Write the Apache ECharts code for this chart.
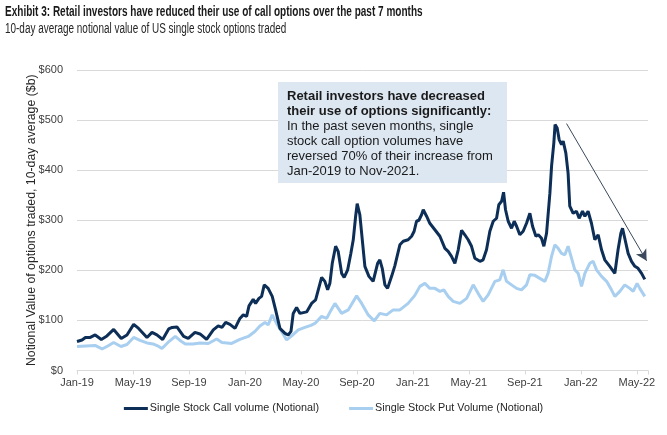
<!DOCTYPE html>
<html>
<head>
<meta charset="utf-8">
<script src="https://cdn.jsdelivr.net/npm/echarts@6/dist/echarts.min.js"></script>
<style>
html,body{margin:0;padding:0;background:#fff;}
#c{width:667px;height:435px;}
</style>
</head>
<body>
<div id="c"></div>
<script>
// x positions are months since Jan-2019 (0 = Jan-19)
var tickLabels = ['Jan-19','May-19','Sep-19','Jan-20','May-20','Sep-20','Jan-21','May-21','Sep-21','Jan-22','May-22'];

var callMonths = [0,0.36,0.6,0.95,1.3,1.74,2.14,2.62,3.16,3.57,4.05,4.4,5.0,5.36,5.71,6.12,6.55,6.8,7.14,7.62,7.95,8.43,8.79,9.26,9.74,10.09,10.36,10.62,10.93,11.29,11.64,11.88,12.12,12.29,12.59,12.76,13.0,13.19,13.38,13.66,13.95,14.19,14.5,14.86,15.09,15.29,15.45,15.69,15.93,16.05,16.41,16.76,17.05,17.24,17.48,17.71,17.91,18.07,18.24,18.48,18.66,18.91,19.09,19.34,19.57,19.74,19.91,20.02,20.21,20.34,20.57,20.86,21.16,21.48,21.64,21.81,22.0,22.19,22.48,22.71,23.07,23.31,23.66,23.91,24.09,24.26,24.43,24.62,24.74,24.98,25.21,25.57,25.93,26.29,26.52,26.76,27.0,27.24,27.48,27.71,27.95,28.19,28.43,28.79,29.02,29.26,29.5,29.74,29.98,30.14,30.34,30.48,30.62,30.81,31.05,31.24,31.41,31.64,31.88,32.12,32.36,32.55,32.79,32.96,33.19,33.36,33.55,33.79,33.91,34.07,34.16,34.31,34.45,34.62,34.74,34.93,35.09,35.21,35.45,35.69,35.88,36.12,36.29,36.52,36.76,37.0,37.24,37.48,37.71,38.07,38.43,38.66,38.86,38.98,39.14,39.38,39.62,39.86,40.09,40.34,40.57];
var callValues = [58,61,66,66,71,62,69,82,64,71,92,84,66,76,71,62,83,86,87,68,64,76,73,62,81,89,86,96,92,84,104,111,108,129,142,134,144,148,171,164,148,121,84,74,71,78,114,126,114,113,117,134,141,161,186,178,161,174,214,248,238,194,186,201,234,261,308,333,311,274,208,188,178,214,221,204,171,164,188,209,251,258,261,268,278,298,300,311,321,308,294,281,268,244,238,228,214,241,280,271,261,248,224,218,221,241,278,298,304,331,338,356,321,298,284,298,288,271,278,294,314,288,268,271,264,248,274,354,408,454,491,484,461,451,458,434,394,328,314,318,304,318,308,318,294,261,271,241,221,208,194,241,274,284,264,234,218,208,204,194,182];

var putMonths = [0,0.64,1.29,1.79,2.2,2.62,3.14,3.57,4.05,4.5,5.0,5.43,5.84,6.07,6.5,7.02,7.36,7.74,8.29,8.79,9.38,9.98,10.36,11.05,11.64,12.24,12.71,13.07,13.43,13.66,13.95,14.26,14.62,14.98,15.34,15.81,16.29,16.71,17.0,17.48,17.84,18.14,18.43,18.91,19.38,19.98,20.34,20.81,21.24,21.64,22.12,22.59,23.07,23.66,24.14,24.5,24.86,25.21,25.57,25.93,26.21,26.52,26.88,27.36,27.84,28.31,28.66,29.02,29.38,29.86,30.21,30.45,30.69,31.05,31.41,31.76,32.12,32.36,32.71,33.07,33.43,33.66,33.91,34.14,34.38,34.62,34.86,35.09,35.34,35.57,35.81,36.05,36.29,36.64,36.88,37.12,37.48,37.84,38.19,38.43,38.79,39.14,39.5,39.74,40.02,40.21,40.57];
var putValues = [48,49,50,43,49,56,48,52,66,60,55,53,48,44,56,68,60,53,53,55,54,63,56,54,62,68,78,89,96,91,111,94,78,61,69,81,86,90,94,108,104,120,134,114,121,149,134,111,99,114,111,121,121,134,150,168,174,164,164,158,161,148,138,134,144,171,154,138,151,178,181,201,178,171,164,161,171,191,190,184,178,194,228,251,244,234,231,248,224,201,194,168,194,214,218,201,188,178,161,148,158,171,164,158,174,164,148];

// trend arrow annotation (month index, value)
var arrowStart = [34.98, 493];
var arrowEnd = [40.7, 219];

var titleText = 'Exhibit 3: Retail investors have reduced their use of call options over the past 7 months';
var subtitleText = '10-day average notional value of US single stock options traded';
var yAxisName = 'Notional Value of options traded, 10-day average ($b)';
var seriesNames = ['Single Stock Call volume (Notional)', 'Single Stock Put Volume (Notional)'];
var boxBold = ['Retail investors have decreased', 'their use of options significantly:'];
var boxBody = ['In the past seven months, single', 'stock call option volumes have', 'reversed 70% of their increase from', 'Jan-2019 to Nov-2021.'];

function zip(a, b) { return a.map(function (x, i) { return [x, b[i]]; }); }

var chart = echarts.init(document.getElementById('c'), null, {renderer: 'canvas'});
var FONT = 'Liberation Sans, Arial, sans-serif';
var option = {
  animation: false,
  backgroundColor: '#ffffff',
  grid: {left: 77, right: 19, top: 70, bottom: 64.5, containLabel: false},
  legend: {
    data: seriesNames,
    left: 'center',
    top: 398,
    icon: 'rect',
    itemWidth: 24,
    itemHeight: 3,
    itemGap: 30,
    textStyle: {fontFamily: FONT, fontSize: 10.8, color: '#262626', padding: [0, 0, 0, -3]}
  },
  xAxis: {
    type: 'value',
    min: 0,
    max: 40.8,
    interval: 4,
    axisLine: {show: true, lineStyle: {color: '#d9d9d9', width: 1}},
    axisTick: {show: true, length: 4, lineStyle: {color: '#d9d9d9'}},
    splitLine: {show: false},
    axisLabel: {
      fontFamily: FONT, fontSize: 11, color: '#404040', margin: 7,
      formatter: function (v) { var i = Math.round(v / 4); return (Math.abs(v - i * 4) < 1e-6 && tickLabels[i]) ? tickLabels[i] : ''; }
    }
  },
  yAxis: {
    type: 'value',
    min: 0,
    max: 600,
    interval: 100,
    name: yAxisName,
    nameLocation: 'middle',
    nameGap: 39,
    nameMoveOverlap: false,
    nameTextStyle: {fontFamily: FONT, fontSize: 12.3, color: '#262626', padding: [0, 0, 0, 0]},
    axisLine: {show: false},
    axisTick: {show: false},
    splitLine: {lineStyle: {color: '#d9d9d9', width: 1}},
    axisLabel: {fontFamily: FONT, fontSize: 11, color: '#404040', margin: 14, formatter: '${value}'}
  },
  series: [
    {
      name: seriesNames[1],
      type: 'line',
      data: zip(putMonths, putValues),
      showSymbol: false,
      symbol: 'none',
      lineStyle: {color: '#a8cfef', width: 3},
      itemStyle: {color: '#a8cfef'},
      z: 2
    },
    {
      name: seriesNames[0],
      type: 'line',
      data: zip(callMonths, callValues),
      showSymbol: false,
      symbol: 'none',
      lineStyle: {color: '#0d2f57', width: 3},
      itemStyle: {color: '#0d2f57'},
      z: 3,
      markLine: {
        silent: true,
        symbol: ['none', 'arrow'],
        symbolSize: [9, 11],
        label: {show: false},
        lineStyle: {color: '#3a4a5c', width: 1, type: 'solid'},
        data: [[{coord: arrowStart}, {coord: arrowEnd}]]
      }
    }
  ],
  graphic: [
    {
      type: 'text', x: 5, y: 4, scaleX: 0.668, z: 100,
      style: {text: titleText, fontFamily: FONT, fontWeight: 'bold', fontSize: 15, fill: '#1a1a1a', textVerticalAlign: 'top'}
    },
    {
      type: 'text', x: 5, y: 22, scaleX: 0.71, z: 100,
      style: {text: subtitleText, fontFamily: FONT, fontSize: 14, fill: '#262626', textVerticalAlign: 'top'}
    },
    {
      type: 'group',
      left: 278,
      top: 82,
      z: 100,
      children: [
        {type: 'rect', z: 100, shape: {x: 0, y: 0, width: 229, height: 101}, style: {fill: '#dde7f2'}},
        {
          type: 'text',
          z: 101,
          left: 9,
          top: 8,
          style: {
            text: '{b|' + boxBold.join('}\n{b|') + '}\n{n|' + boxBody.join('}\n{n|') + '}',
            rich: {
              b: {fontFamily: FONT, fontSize: 13, fontWeight: 'bold', lineHeight: 15, fill: '#1a1a1a'},
              n: {fontFamily: FONT, fontSize: 13, lineHeight: 15, fill: '#1a1a1a'}
            }
          }
        }
      ]
    }
  ]
};
chart.setOption(option);
</script>
</body>
</html>
